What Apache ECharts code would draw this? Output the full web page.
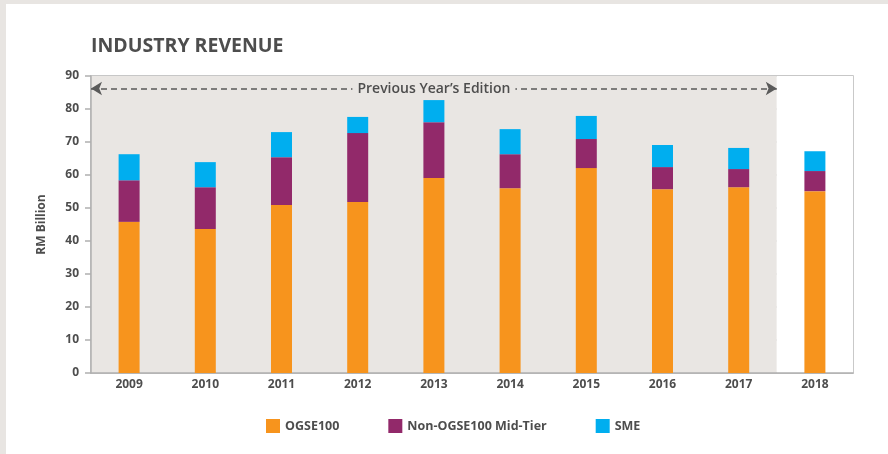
<!DOCTYPE html>
<html>
<head>
    <meta charset="utf-8"/>
    <style>
        html,body { height:100%; width:100%; margin:0; padding:0; background:#e8e5e2; overflow:hidden; }
        #chart { position:absolute; left:6px; top:4px; width:882px; height:450px; background:#fff; }
    </style>
</head>
<body>

<div id="chart"></div>

<script src="https://cdn.jsdelivr.net/npm/echarts@6/dist/echarts.min.js"></script>
<script type="text/javascript">

 // categories and series (RM Billion)
 var years = ['2009', '2010', '2011', '2012', '2013', '2014', '2015', '2016', '2017', '2018'];
 var ogse100 = [45.8, 43.6, 50.9, 51.8, 59.1, 56.0, 62.1, 55.7, 56.3, 55.1];
 var midTier = [12.6, 12.7, 14.5, 20.9, 16.9, 10.3, 8.8, 6.7, 5.5, 6.1];
 var sme = [7.9, 7.6, 7.6, 4.9, 6.7, 7.6, 7.0, 6.7, 6.4, 6.0];

 // y axis ticks
 var yMin = 0, yMax = 90, yStep = 10;

 // "previous year's edition" covers the first nine years
 var prevEditionCount = 9;
 var arrowLevel = 86.2;

 var txt = '#4d4d4d';
 var font = 'Open Sans';
 var shade = '#e9e6e3';

 // one band colour per category: shaded up to the previous edition, white after it
 var bandColors = years.map(function (y, i) {
     return i < prevEditionCount ? shade : '#ffffff';
 });

 var myChart = echarts.init(document.getElementById('chart'));

 var option = {
    animation: false,
    title: {
        text: 'INDUSTRY REVENUE',
        left: 80,
        top: 27,
        textStyle: { fontFamily: font, fontSize: 19.5, fontWeight: 'bold', color: txt }
    },
    legend: {
        data: ['OGSE100', 'Non-OGSE100 Mid-Tier', 'SME'],
        selectedMode: false,
        left: 255,
        top: 410,
        icon: 'rect',
        itemWidth: 14,
        itemHeight: 14,
        itemGap: 49,
        textStyle: { fontFamily: font, fontSize: 12.5, fontWeight: 'bold', color: txt }
    },
    grid: {
        left: 85,
        right: 35,
        top: 72,
        bottom: 81,
        show: true,
        borderColor: '#b8b8b8',
        borderWidth: 1.5,
        backgroundColor: 'transparent'
    },
    xAxis: [{
        type: 'category',
        data: years,
        axisLine: { lineStyle: { color: '#b0b0b0', width: 1.5 } },
        axisTick: { length: 5, lineStyle: { color: '#b0b0b0', width: 1.5 } },
        axisLabel: { margin: 6, fontFamily: font, fontSize: 12, fontWeight: 'bold', color: txt },
        splitArea: { show: true, areaStyle: { color: bandColors } }
    }, {
        // hidden helper axis in band units, used only to place the arrow
        type: 'value',
        min: -0.5,
        max: years.length - 0.5,
        show: false,
        splitLine: { show: false }
    }],
    yAxis: {
        type: 'value',
        min: yMin,
        max: yMax,
        interval: yStep,
        name: 'RM Billion',
        nameLocation: 'middle',
        nameGap: 43,
        nameTextStyle: { fontFamily: font, fontSize: 12, fontWeight: 'bold', color: txt },
        axisLine: { show: true, onZero: false, lineStyle: { color: '#b0b0b0', width: 1.5 } },
        axisTick: { show: true, length: 6, lineStyle: { color: '#b0b0b0', width: 1.5 } },
        axisLabel: { margin: 12, fontFamily: font, fontSize: 12, fontWeight: 'bold', color: txt },
        splitLine: { lineStyle: { color: '#c6c6c6', width: 1.5 } }
    },
    series: [
        {
            name: 'OGSE100',
            type: 'bar',
            stack: 'rev',
            barWidth: 21,
            itemStyle: { color: '#f7941d' },
            data: ogse100
        },
        {
            name: 'Non-OGSE100 Mid-Tier',
            type: 'bar',
            stack: 'rev',
            barWidth: 21,
            itemStyle: { color: '#92296a' },
            data: midTier
        },
        {
            name: 'SME',
            type: 'bar',
            stack: 'rev',
            barWidth: 21,
            itemStyle: { color: '#00aeef' },
            data: sme
        },
        {
            // annotation arrow for the previous edition span
            type: 'line',
            xAxisIndex: 1,
            data: [],
            silent: true,
            markLine: {
                silent: true,
                symbol: ['arrow', 'arrow'],
                symbolSize: [10, 11],
                lineStyle: { color: '#5a5a5a', type: [6, 4], width: 1.5 },
                label: {
                    show: true,
                    position: 'middle',
                    distance: 0,
                    verticalAlign: 'middle',
                    formatter: 'Previous Year\u2019s Edition',
                    fontFamily: font,
                    fontSize: 14,
                    fontWeight: 600,
                    color: txt,
                    backgroundColor: shade,
                    padding: [2, 5]
                },
                data: [[
                    { coord: [-0.5, arrowLevel] },
                    { coord: [prevEditionCount - 0.5, arrowLevel] }
                ]]
            }
        }
    ]
 };

 myChart.setOption(option);

</script>
</body>
</html>
